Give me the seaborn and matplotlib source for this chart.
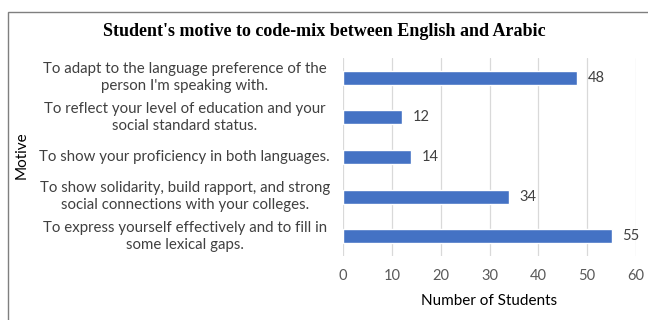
import matplotlib
matplotlib.use("Agg")
import matplotlib.pyplot as plt
from matplotlib.patches import Rectangle
import seaborn as sns
import pandas as pd

motives = [
    "To adapt to the language preference of the\nperson I'm speaking with.",
    "To reflect your level of education and your\nsocial standard status.",
    "To show your proficiency in both languages.",
    "To show solidarity, build rapport, and strong\nsocial connections with your colleges.",
    "To express yourself effectively and to fill in\nsome lexical gaps.",
]
students = [48, 12, 14, 34, 55]
x_ticks = [0, 10, 20, 30, 40, 50, 60]

sns.set_theme(style="white")
plt.rcParams["font.family"] = ["Lato", "DejaVu Sans"]

df = pd.DataFrame({"Motive": motives, "Number of Students": students})

fig = plt.figure(figsize=(6.48, 3.2), dpi=100)
ax = fig.add_axes([343 / 648, 1 - 256 / 320, (636 - 343) / 648, (256 - 58) / 320])

sns.barplot(data=df, y="Motive", x="Number of Students", color="#4472C4",
            width=0.35, saturation=1, ax=ax, zorder=3)

ax.set_xlim(0, 60)
ax.set_xticks(x_ticks)
ax.grid(axis="x", color="#D9D9D9", linewidth=0.9, zorder=0)
for s in ax.spines.values():
    s.set_visible(False)
ax.tick_params(axis="x", colors="#595959", labelsize=10.5, length=0, pad=9)

# Category labels, centred in the space left of the bars
ticks = ax.get_yticks()
labels = [t.get_text() for t in ax.get_yticklabels()]
ax.set_yticklabels([])
ax.tick_params(axis="y", length=0)
trans = ax.get_yaxis_transform()
for y, lbl in zip(ticks, labels):
    ax.text(-0.54, y, lbl, transform=trans, ha="center", va="center",
            multialignment="center", fontsize=10.8, color="#404040",
            linespacing=1.3)

for bar, v in zip(ax.patches, students):
    ax.text(bar.get_width() + 2.2, bar.get_y() + bar.get_height() / 2, str(v),
            va="center", ha="left", fontsize=10.5, color="#404040")

ax.set_xlabel("Number of Students", fontsize=11, color="#000000", labelpad=8)
ax.set_ylabel("")
fig.text(22 / 648, 1 - 155 / 320, "Motive", rotation=90, va="center", ha="center",
         fontsize=11, color="#000000")

fig.text(0.5, 1 - 31 / 320, "Student's motive to code-mix between English and Arabic",
         ha="center", va="center", fontsize=13, fontweight="bold",
         family="Liberation Serif", color="#000000")

fig.patches.append(Rectangle((8 / 648, -0.1), 1.2, 1.1 - 12 / 320,
                             transform=fig.transFigure, fill=False,
                             edgecolor="#7F7F7F", linewidth=1.0))

fig.savefig("out.png", dpi=100)
